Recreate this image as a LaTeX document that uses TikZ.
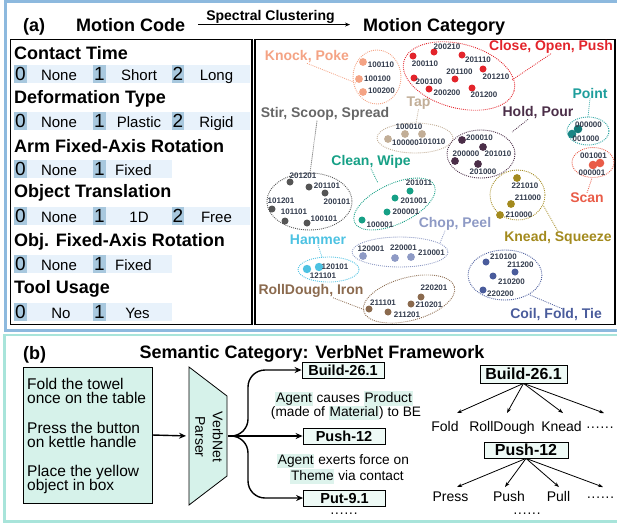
\documentclass[tikz,border=0pt]{standalone}
\usepackage{fontspec}
\setmainfont{Liberation Sans}
\usetikzlibrary{arrows.meta}

\definecolor{framea}{HTML}{8DB9DE}
\definecolor{frameb}{HTML}{A8E4DA}
\definecolor{bandc}{HTML}{E8F2FB}
\definecolor{digc}{HTML}{A8C8DE}
\definecolor{mint}{HTML}{D6F2EA}
\definecolor{boxc}{HTML}{EEFAF6}
\definecolor{hlc}{HTML}{DDF3EC}
\definecolor{codec}{HTML}{343D4E}
\definecolor{knockc}{HTML}{F4A384}
\definecolor{closec}{HTML}{E3242B}
\definecolor{tapc}{HTML}{C2AE97}
\definecolor{stirc}{HTML}{555555}
\definecolor{holdc}{HTML}{4B2E48}
\definecolor{pointc}{HTML}{1E9E9C}
\definecolor{scanc}{HTML}{E95C48}
\definecolor{cleanc}{HTML}{16A086}
\definecolor{kneadc}{HTML}{A38A1E}
\definecolor{hamc}{HTML}{4DC2E2}
\definecolor{chopc}{HTML}{8E9AC5}
\definecolor{rollc}{HTML}{8B6A4E}
\definecolor{coilc}{HTML}{4A5C9C}

\newcommand\fsz[1]{\fontsize{#1}{#1}\selectfont}
\newcommand\hlw[1]{{\setlength{\fboxsep}{0.8pt}\colorbox{hlc}{\vphantom{Ag}#1}}}
% dot of a cluster: [radius]{colour}{x}{y}
\newcommand\md[4][3.5]{\fill[#2] (#3,#4) circle (#1);}
% motion code label: {name}{x}{y}{code}
\newcommand\cl[4]{\node[code] (#1) at (#2,#3) {#4};}
% dotted cluster outline: {colour}{cx}{cy}{rx}{ry}{rotation}
\newcommand\grp[6]{\draw[grp=#1, shift={(#2,#3)}, rotate=#6] (0,0) ellipse [x radius=#4, y radius=#5];}

\begin{document}
\begin{tikzpicture}[x=1pt,y=-1pt,
  code/.style={font=\fsz{8}\bfseries, text=codec, inner sep=0},
  cat/.style={font=\fsz{14}\bfseries, inner sep=0},
  hdr/.style={font=\fsz{18}\bfseries, anchor=base west, inner sep=0},
  ttl/.style={font=\fsz{18}\bfseries, anchor=base west, inner sep=0},
  opt/.style={font=\fsz{15}, anchor=base, inner sep=0},
  digbox/.style={fill=digc, minimum width=13, minimum height=18, inner sep=0, font=\fsz{19}},
  grp/.style={draw=#1, line width=0.9, dash pattern=on 0.9pt off 1.1pt},
  lead/.style={draw=#1, line width=0.8, dash pattern=on 0.9pt off 1.1pt},
  barr/.style={line width=1.4, -{Stealth[length=7pt,width=6pt]}},
  tarr/.style={line width=0.8, -{Stealth[length=5pt,width=3.6pt]}},
  sbox/.style={draw, line width=0.8, fill=boxc, font=\fsz{14.5}\bfseries, minimum width=82, minimum height=16, inner sep=0},
  bbox/.style={draw, line width=0.8, fill=boxc, font=\fsz{16}\bfseries, minimum width=87, minimum height=18, inner sep=0},
  desc/.style={font=\fsz{13.7}, anchor=base, inner sep=0},
  intext/.style={font=\fsz{15.5}, anchor=base west, inner sep=0},
  leaf/.style={font=\fsz{14}, anchor=base, inner sep=0}]
\useasboundingbox (0,0) rectangle (617,523);

% ---------------- panel frames ----------------
\draw[framea, line width=2.6] (5.3,1.3) rectangle (620,330.5);
\draw[frameb, line width=2.6] (4.5,335) rectangle (620,521.5);

% ---------------- (a) title row ----------------
\node[ttl] (ta) at (23,31) {(a)};
\node[ttl] (mc) at (76,31) {Motion Code};
\node[ttl] (mcat) at (363,31) {Motion Category};
\draw[line width=0.9, -{Stealth[length=5pt,width=4pt]}, shorten <=13pt, shorten >=13pt]
  (mc.east) -- (mc.east -| mcat.west);
\node[font=\fsz{14}\bfseries, anchor=base, inner sep=0] (sc) at (270.5,20.5) {Spectral Clustering};

% ---------------- motion code table ----------------
\draw[line width=1.5] (10.5,39.5) rectangle (251.8,324.5);
\draw[line width=1.5] (255.2,39.5) rectangle (615,324.5);

\node[hdr] (h1) at (14,59) {Contact Time};
\node[hdr] (h2) at (14,103.5) {Deformation Type};
\node[hdr] (h3) at (14,152) {Arm Fixed-Axis Rotation};
\node[hdr] (h4) at (14,197.5) {Object Translation};
\node[hdr] (h5) at (14,246) {Obj. Fixed-Axis Rotation};
\node[hdr] (h6) at (14,293.5) {Tool Usage};

\foreach \t/\a/\b/\c/\n in {65/None/Short/Long/r1, 112/None/Plastic/Rigid/r2, 207/None/1D/Free/r4}{
  \fill[bandc] (14,\t) rectangle (250,\t+18);
  \node[digbox] (\n-d0) at (20.5,\t+9) {0};
  \node[digbox] (\n-d1) at (99.5,\t+9) {1};
  \node[digbox, minimum width=12] (\n-d2) at (178,\t+9) {2};
  \node[opt] (\n-o0) at (59,\t+15.5) {\a};
  \node[opt] (\n-o1) at (139,\t+15.5) {\b};
  \node[opt] (\n-o2) at (216.5,\t+15.5) {\c};
}
\foreach \t/\a/\xa/\b/\xb/\n in {160/None/59/Fixed/133.5/r3, 255/None/59/Fixed/133.5/r5, 303/No/61/Yes/137.5/r6}{
  \fill[bandc] (14,\t) rectangle (172,\t+18);
  \node[digbox] (\n-d0) at (20.5,\t+9) {0};
  \node[digbox] (\n-d1) at (99.5,\t+9) {1};
  \node[opt] (\n-o0) at (\xa,\t+15.5) {\a};
  \node[opt] (\n-o1) at (\xb,\t+15.5) {\b};
}

% ---------------- motion categories ----------------
% Close, Open, Push
\grp{closec}{459}{76}{57}{32}{-15}
\md{closec}{413}{56} \md{closec}{434}{52} \md{closec}{462}{55} \md{closec}{483}{69}
\md{closec}{455}{79} \md{closec}{429}{89} \md{closec}{414}{78} \md{closec}{472}{88}
\cl{c1}{425}{64}{200110} \cl{c2}{447}{47}{200210} \cl{c3}{478}{60}{201110}
\cl{c4}{496}{77}{201210} \cl{c5}{459.5}{72}{201100} \cl{c6}{447}{93}{200200}
\cl{c7}{429}{82}{200100} \cl{c8}{484}{95}{201200}
\node[cat, text=closec] (lclose) at (551,47) {Close, Open, Push};
\coordinate (eclose) at (512,80);
\draw[lead=closec] (lclose.south) -- (eclose);

% Knock, Poke
\grp{knockc}{377}{77}{24}{27}{0}
\md[3.9]{knockc}{363}{62} \md[3.9]{knockc}{359}{79} \md[3.9]{knockc}{363}{92}
\cl{k1}{381}{65}{100110} \cl{k2}{377.5}{79}{100100} \cl{k3}{381.5}{91}{100200}
\node[cat, text=knockc] (lknock) at (307,57) {Knock, Poke};
\coordinate (eknock) at (356,83);
\draw[lead=knockc] (lknock.south) -- (eknock);

% Tap
\grp{tapc}{415}{138}{38}{15}{0}
\md[3.9]{tapc}{388}{139} \md[3.9]{tapc}{405}{134} \md[3.9]{tapc}{422}{134}
\cl{t1}{409}{127}{100010} \cl{t2}{405.5}{143}{100000} \cl{t3}{432}{142}{101010}
\node[cat, text=tapc] (ltap) at (418.5,103) {Tap};
\coordinate (etap) at (416,123);
\draw[lead=tapc] (ltap.south) -- (etap);

% Stir, Scoop, Spread
\grp{stirc}{309.5}{201.5}{42.5}{28.5}{0}
\md{stirc}{290}{182} \md{stirc}{309}{187} \md{stirc}{325}{193}
\md{stirc}{272}{209} \md{stirc}{285}{221} \md{stirc}{307}{223}
\cl{s1}{303}{176}{201201} \cl{s2}{327}{186}{201101} \cl{s3}{337}{202}{200101}
\cl{s4}{281}{201}{101201} \cl{s5}{294}{212}{101101} \cl{s6}{324}{219}{100101}
\node[cat, text=stirc!90] (lstir) at (325,114) {Stir, Scoop, Spread};
\coordinate (estir) at (310,173);
\draw[lead=stirc] ([xshift=-8pt]lstir.south) -- (estir);

% Clean, Wipe
\grp{cleanc}{394.5}{204}{44}{20}{25}
\md{cleanc}{410}{191} \md{cleanc}{395}{198} \md{cleanc}{387}{212} \md{cleanc}{362}{220}
\cl{w1}{419}{183}{201011} \cl{w2}{414}{201}{201001} \cl{w3}{406}{212}{200001} \cl{w4}{380}{225}{100001}
\node[cat, text=cleanc] (lclean) at (371,162) {Clean, Wipe};
\coordinate (eclean) at (378,183);
\draw[lead=cleanc] (lclean.south) -- (eclean);

% Hold, Pour
\grp{holdc}{481}{154}{34}{24}{0}
\md[3.9]{holdc}{462}{140} \md[3.9]{holdc}{483}{147} \md[3.9]{holdc}{455}{161} \md[3.9]{holdc}{478}{164}
\cl{o1}{479.5}{138}{200010} \cl{o2}{498}{154}{201010} \cl{o3}{466}{154}{200000} \cl{o4}{483}{172}{201000}
\node[cat, text=holdc] (lhold) at (538,113) {Hold, Pour};
\coordinate (ehold) at (512,132);
\draw[lead=holdc] ([xshift=-10pt]lhold.south) -- (ehold);

% Point
\grp{pointc}{588}{131}{21}{14}{0}
\md[4.3]{pointc!80!teal!80!black}{578}{129} \md[4.3]{pointc!85!black}{572}{134}
\cl{p1}{588.5}{125}{000000} \cl{p2}{586}{139}{001000}
\node[cat, text=pointc] (lpoint) at (590,93) {Point};
\coordinate (epoint) at (588,117);
\draw[lead=pointc] (lpoint.south) -- (epoint);

% Scan
\grp{scanc}{593}{162.5}{21}{15}{0}
\md[4.3]{scanc}{600}{163} \md[4.3]{scanc}{593}{165}
\cl{n1}{593.5}{156}{001001} \cl{n2}{592}{173}{000001}
\node[cat, text=scanc] (lscan) at (587,198) {Scan};
\coordinate (escan) at (592,178);
\draw[lead=scanc] (lscan.north) -- (escan);

% Knead, Squeeze
\grp{kneadc}{517.5}{195}{27.5}{25}{0}
\md[3.9]{kneadc}{517}{178} \md[3.9]{kneadc}{511}{204} \md[3.9]{kneadc}{500}{215}
\cl{q1}{525}{186}{221010} \cl{q2}{528}{198}{211000} \cl{q3}{519}{215}{210000}
\node[cat, text=kneadc] (lknead) at (558,238) {Knead, Squeeze};
\coordinate (eknead) at (543,205);
\draw[lead=kneadc] (lknead.north) -- (eknead);

% Hammer
\grp{hamc}{328.5}{269.5}{30.5}{12.5}{0}
\md[4.2]{hamc}{307}{269} \md[4.2]{hamc}{319}{267}
\cl{m1}{335}{267}{120101} \cl{m2}{323}{276}{121101}
\node[cat, text=hamc] (lham) at (318,240) {Hammer};
\coordinate (eham) at (322,257);
\draw[lead=hamc] (lham.south) -- (eham);

% Chop, Peel
\grp{chopc}{400}{252}{48}{15}{0}
\md[3.9]{chopc}{363}{256} \md[3.9]{chopc}{395}{258} \md[3.9]{chopc}{411}{257}
\cl{h1}{371}{249}{120001} \cl{h2}{403.5}{248}{220001} \cl{h3}{431.5}{253}{210001}
\node[cat, text=chopc] (lchop) at (455,224) {Chop, Peel};
\coordinate (echop) at (440,243);
\draw[lead=chopc] ([xshift=-10pt]lchop.south) -- (echop);

% RollDough, Iron
\grp{rollc}{409}{299}{47}{21.5}{15}
\md{rollc}{369}{309} \md{rollc}{388}{312} \md{rollc}{411}{304} \md{rollc}{421}{297}
\cl{d1}{383}{303}{211101} \cl{d2}{407}{315}{211201} \cl{d3}{429}{305}{210201} \cl{d4}{434}{288}{220201}
\node[cat, text=rollc] (lroll) at (311,291) {RollDough, Iron};
\coordinate (eroll) at (365,310);
\draw[lead=rollc] ([xshift=22pt]lroll.south) -- (eroll);

% Coil, Fold, Tie
\grp{coilc}{505}{275}{37}{25}{0}
\md{coilc}{486}{262} \md{coilc}{515}{272} \md{coilc}{493}{276} \md{coilc}{483}{290}
\cl{f1}{503.5}{257}{210100} \cl{f2}{520.5}{265}{211200} \cl{f3}{511.5}{282}{210200} \cl{f4}{500.5}{294}{220200}
\node[cat, text=coilc] (lcoil) at (556,315) {Coil, Fold, Tie};
\coordinate (ecoil) at (530,295);
\draw[lead=coilc] ([xshift=6pt]lcoil.north) -- (ecoil);

% ---------------- (b) VerbNet ----------------
\node[ttl, font=\fsz{18}\bfseries] (tb) at (23,359) {(b)};
\node[font=\fsz{18}\bfseries, anchor=base, inner sep=0] (vnt) at (312,358) {Semantic Category: VerbNet Framework};

\node[draw, line width=0.8, fill=mint, minimum width=129, minimum height=136, inner sep=0] (inp) at (87.5,435) {};
\node[intext] (i1) at (27,389) {Fold the towel};
\node[intext] (i2) at (27,403.5) {once on the table};
\node[intext] (i3) at (27,433) {Press the button};
\node[intext] (i4) at (27,447) {on kettle handle};
\node[intext] (i5) at (27,476) {Place the yellow};
\node[intext] (i6) at (27,490) {object in box};

% parser block
\draw[line width=0.8, fill=mint] (189,367) -- (227,396) -- (227,476) -- (189,505) -- cycle;
\coordinate (pin) at (189,436);
\coordinate (pout) at (228,436);
\node[rotate=-90, font=\fontsize{14}{17.5}\selectfont, align=center, inner sep=0] (vp) at (209,437) {VerbNet\\Parser};
\draw[barr, shorten >=3pt] (inp.east) -- (pin);

% VerbNet classes
\node[sbox] (b1) at (343,370) {Build-26.1};
\node[sbox] (b2) at (344,436) {Push-12};
\node[sbox] (b3) at (344.5,498) {Put-9.1};
\draw[barr, rounded corners=17] (pout) -- (248,436) -- (248,370) -- (b1.west);
\draw[barr] (pout) -- (b2.west);
\draw[barr, rounded corners=17] (pout) -- (248,436) -- (248,498) -- (b3.west);

\node[desc] (ds1) at (344,402) {\hlw{Agent} causes \hlw{Product}};
\node[desc] (ds2) at (346,416.5) {(made of \hlw{Material}) to BE};
\node[desc] (ds3) at (343,464) {\hlw{Agent} exerts force on};
\node[desc] (ds4) at (347,480) {\hlw{Theme} via contact};
\node[leaf] (more1) at (344,517.5) {······};

% class members
\node[bbox] (B1) at (523.5,374) {Build-26.1};
\node[bbox, minimum width=84, minimum height=16] (B2) at (526,450) {Push-12};

\node[leaf] (fa) at (445,431) {Fold};
\node[leaf] (fb) at (502,431) {RollDough};
\node[leaf] (fc) at (561.5,431) {Knead};
\node[leaf] (fd) at (600,431) {······};
\coordinate (ea1) at (457,413);
\coordinate (ea2) at (507,413);
\coordinate (ea3) at (563,413);
\coordinate (ea4) at (604,413);
\foreach \e in {ea1,ea2,ea3,ea4} \draw[tarr] (B1.south) -- (\e);

\node[leaf] (pa) at (450.5,501) {Press};
\node[leaf] (pb) at (509,501) {Push};
\node[leaf] (pc) at (558.5,501) {Pull};
\node[leaf] (pd) at (600.5,501) {······};
\coordinate (eb1) at (457,487);
\coordinate (eb2) at (505,487);
\coordinate (eb3) at (559,487);
\coordinate (eb4) at (603,487);
\foreach \e in {eb1,eb2,eb3,eb4} \draw[tarr] (B2.south) -- (\e);
\node[leaf] (more2) at (527,517.5) {······};

\end{tikzpicture}
\end{document}
